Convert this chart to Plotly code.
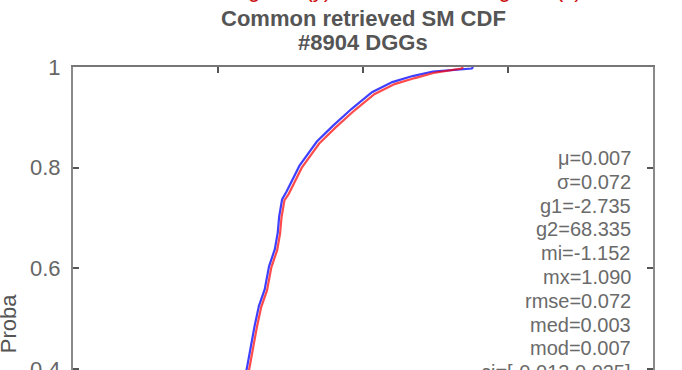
import plotly.graph_objects as go

# Empirical CDF of common retrieved soil moisture (m3/m3), two products
blue_sm = [0.040, 0.085, 0.102, 0.112, 0.1202, 0.1222, 0.1252, 0.1282, 0.1322, 0.1352,
           0.1392, 0.1412, 0.1422, 0.1442, 0.1472, 0.1562, 0.1682, 0.1792, 0.1922,
           0.2062, 0.2202, 0.2342, 0.2482, 0.2750, 0.2760]
blue_p = [0.000, 0.080, 0.180, 0.290, 0.406, 0.440, 0.485, 0.525, 0.558, 0.604,
          0.638, 0.671, 0.703, 0.737, 0.752, 0.804, 0.852, 0.883, 0.917,
          0.950, 0.970, 0.982, 0.991, 0.997, 1.000]

red_sm = [0.042, 0.087, 0.104, 0.114, 0.1218, 0.1238, 0.1268, 0.1298, 0.1338, 0.1368,
          0.1408, 0.1428, 0.1438, 0.1458, 0.1488, 0.1578, 0.1698, 0.1808, 0.1938,
          0.2078, 0.2218, 0.2358, 0.2498, 0.2680, 0.2690]
red_p = [0.000, 0.078, 0.178, 0.288, 0.404, 0.438, 0.483, 0.523, 0.556, 0.602,
         0.636, 0.669, 0.701, 0.735, 0.748, 0.800, 0.848, 0.879, 0.913,
         0.946, 0.966, 0.978, 0.989, 0.997, 1.000]

# Difference statistics printed inside the axes
stat_labels = ["μ=0.007", "σ=0.072", "g1=-2.735", "g2=68.335", "mi=-1.152",
               "mx=1.090", "rmse=0.072", "med=0.003", "mod=0.007", "ci=[-0.013,0.025]"]

y_ticks = [0.4, 0.6, 0.8, 1.0]
y_tick_text = ["0.4", "0.6", "0.8", "1"]
x_ticks = [0.0, 0.1, 0.2, 0.3, 0.4]

title_lines = ["Common retrieved SM CDF", "#8904 DGGs"]
red_titles = ["Descending SM (y)", "Ascending SM (x)"]

FONT = "Liberation Sans, Arial"
PLOT_H = 303  # plot-area height in px (top margin 67, no bottom margin)

fig = go.Figure()
fig.add_trace(go.Scatter(x=blue_sm, y=blue_p, mode="lines",
                         line=dict(color="#0000ff", width=2.2), opacity=0.75,
                         showlegend=False))
fig.add_trace(go.Scatter(x=red_sm, y=red_p, mode="lines",
                         line=dict(color="#ff0000", width=2.2), opacity=0.7,
                         showlegend=False))

annotations = []
# statistics block, right aligned, one line every ~23.8 px
for i, s in enumerate(stat_labels):
    y_px = 158 + i * 23.8
    annotations.append(dict(
        text=s, xref="paper", yref="paper", x=0.9655, y=(370 - y_px) / PLOT_H,
        xanchor="right", yanchor="middle", showarrow=False,
        font=dict(family=FONT, size=20, color="#6a6a6a")))

# two-line axes title
for txt, yp in zip(title_lines, [1.160, 1.081]):
    annotations.append(dict(
        text="<b>" + txt + "</b>", xref="paper", yref="paper", x=0.5, y=yp,
        xanchor="center", yanchor="middle", showarrow=False,
        font=dict(family=FONT, size=22, color="#555555")))

# red super-title parts (mostly above the page top)
for txt, xp in zip(red_titles, [0.448, 0.881]):
    annotations.append(dict(
        text=txt, xref="paper", yref="paper", x=xp, y=1.255,
        xanchor="right", yanchor="middle", showarrow=False,
        font=dict(family=FONT, size=22, color="#cc1010")))

# y-axis label
annotations.append(dict(
    text="Proba", xref="paper", yref="paper", x=-0.110, y=0.152,
    xanchor="center", yanchor="middle", textangle=-90, showarrow=False,
    font=dict(family=FONT, size=22, color="#555555")))

fig.update_layout(
    width=682, height=370,
    margin=dict(l=73, r=29, t=67, b=0),
    paper_bgcolor="white", plot_bgcolor="white",
    annotations=annotations,
    xaxis=dict(range=[0, 0.4], side="top", tickvals=x_ticks, ticks="inside",
               ticklen=6, tickwidth=2, tickcolor="#555555",
               showticklabels=False, showgrid=False, zeroline=False,
               showline=True, linewidth=2, linecolor="#777777",
               automargin=False),
    yaxis=dict(range=[0.398, 1.0], tickvals=y_ticks, ticktext=y_tick_text,
               ticks="inside", ticklen=6, tickwidth=2, tickcolor="#555555",
               showgrid=False, zeroline=False, showline=True, linewidth=2,
               linecolor="#8a8a8a", mirror="ticks", ticklabelstandoff=6,
               ticklabeloverflow="allow", automargin=False,
               tickfont=dict(family=FONT, size=22, color="#666666")),
)

fig.write_html("out.html")
